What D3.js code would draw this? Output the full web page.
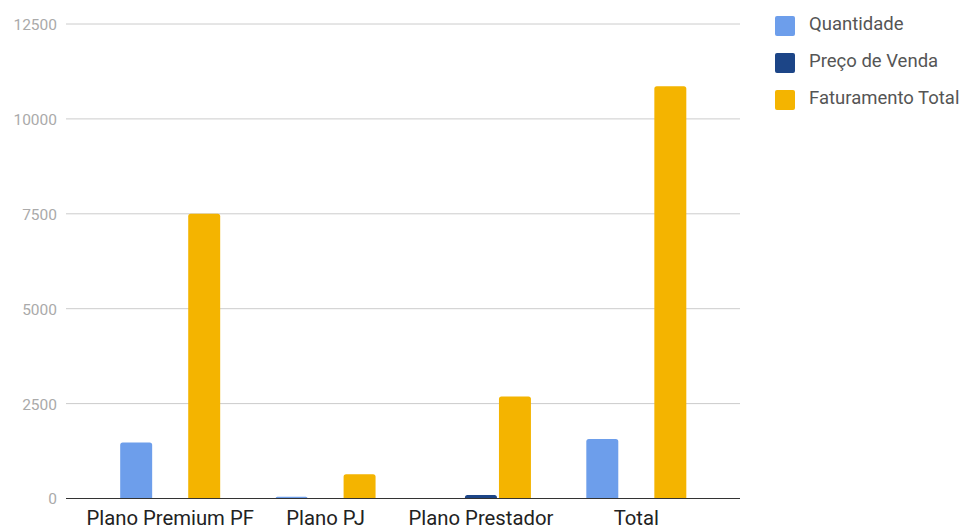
<!DOCTYPE html>
<html>
<head>
<meta charset="utf-8">
<script src="https://cdn.jsdelivr.net/npm/d3@7"></script>
<style>
  html, body { margin: 0; padding: 0; background: #fff; }
  svg { display: block; font-family: Roboto, "Noto Sans", sans-serif; }
</style>
</head>
<body>
<svg id="chart" width="964" height="530"></svg>
<script>
// Plan categories and series values
const categories = ["Plano Premium PF", "Plano PJ", "Plano Prestador", "Total"];
const seriesNames = ["Quantidade", "Preço de Venda", "Faturamento Total"];
const quantidade = [1475, 45, 10, 1565];
const precoVenda = [5, 14, 95, 0];
const faturamentoTotal = [7500, 640, 2690, 10860];
const yTicks = [0, 2500, 5000, 7500, 10000, 12500];
const colors = ["#6d9eeb", "#1c4587", "#f4b400"];

const series = [quantidade, precoVenda, faturamentoTotal];

const svg = d3.select("#chart");
const gridLeft = 66, gridRight = 740;
const plotTop = 24, plotBottom = 498.5;

const x = d3.scaleBand().domain(categories).range([92.5, 714]).paddingInner(0).paddingOuter(0);
const xs = d3.scaleBand().domain(seriesNames).range([0, 100]).paddingInner(0.06);
const y = d3.scaleLinear().domain([0, 12500]).range([plotBottom, plotTop]);

// Horizontal gridlines
svg.append("g").selectAll("line").data(yTicks.filter(d => d !== 0)).join("line")
  .attr("x1", gridLeft).attr("x2", gridRight)
  .attr("y1", d => y(d)).attr("y2", d => y(d))
  .attr("stroke", "#cccccc").attr("stroke-width", 1);

// Y axis labels
const yAxis = d3.axisLeft(y).tickValues(yTicks).tickSize(0).tickPadding(0).tickFormat(d3.format("d"));
const yg = svg.append("g").attr("transform", `translate(57,0)`).call(yAxis);
yg.select(".domain").remove();
yg.selectAll("text").attr("fill", "#aaaaaa").style("font-size", "15.5px")
  .style("font-family", "Roboto, sans-serif").attr("dy", "0.35em");

// Rounded-top bar path
function barPath(x0, w, y0, y1, r) {
  const h = y0 - y1;
  if (h <= 0) return "";
  const rr = Math.min(r, h, w / 2);
  return `M${x0},${y0}V${y1 + rr}Q${x0},${y1} ${x0 + rr},${y1}H${x0 + w - rr}Q${x0 + w},${y1} ${x0 + w},${y1 + rr}V${y0}Z`;
}

const groupOffset = (x.bandwidth() - 100) / 2;
const bars = [];
categories.forEach((c, i) => {
  seriesNames.forEach((s, j) => {
    bars.push({ cat: c, name: s, value: series[j][i], color: colors[j] });
  });
});

svg.append("g").selectAll("path").data(bars).join("path")
  .attr("d", d => barPath(x(d.cat) + groupOffset + xs(d.name), xs.bandwidth(), y(0), y(d.value), 2.5))
  .attr("fill", d => d.color);

// Baseline
svg.append("line").attr("x1", gridLeft).attr("x2", gridRight)
  .attr("y1", y(0)).attr("y2", y(0)).attr("stroke", "#333333").attr("stroke-width", 1.2);

// Category axis
const xAxis = d3.axisBottom(x).tickSize(0).tickPadding(0);
const xg = svg.append("g").attr("transform", `translate(0,${y(0)})`).call(xAxis);
xg.select(".domain").remove();
xg.selectAll("text").attr("fill", "#222222").style("font-size", "20.3px")
  .style("font-family", "Roboto, sans-serif").attr("y", 26.5).attr("dy", 0);

// Legend
const legend = svg.append("g").selectAll("g").data(seriesNames).join("g")
  .attr("transform", (d, i) => `translate(775,${16 + i * 37})`);
legend.append("rect").attr("width", 20).attr("height", 20).attr("rx", 2)
  .attr("fill", (d, i) => colors[i]);
legend.append("text").attr("x", 34).attr("y", 13.5)
  .attr("fill", "#555555").style("font-size", "18.5px").text(d => d);
</script>
</body>
</html>
